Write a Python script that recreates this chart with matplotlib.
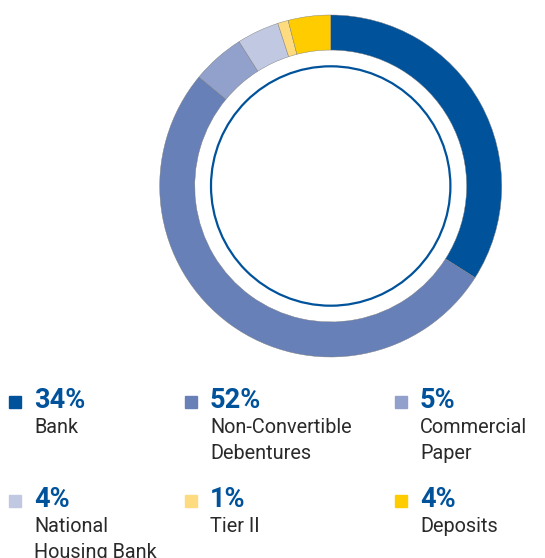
import matplotlib.pyplot as plt
from matplotlib.patches import Circle

# Data
labels = ['Bank', 'Non-Convertible\nDebentures', 'Commercial\nPaper',
          'National\nHousing Bank', 'Tier II', 'Deposits']
shares = [34, 52, 5, 4, 1, 4]
colors = ['#00529B', '#6780B8', '#91A1CC', '#C1C9E2', '#FFDB80', '#FFCC00']

W, H = 545, 558
fig = plt.figure(figsize=(W / 100, H / 100), dpi=100)


def fx(px):
    return px / W


def fy(py):
    return 1 - py / H


# Donut
cx, cy, r = 330.7, 186, 171
ax = fig.add_axes([fx(cx - r), fy(cy + r), 2 * r / W, 2 * r / H])
ax.pie(shares, colors=colors, startangle=90, counterclock=False, radius=1,
       wedgeprops=dict(width=0.205, edgecolor='#7a7a7a', linewidth=0.3))
ax.add_patch(Circle((0, 0), 0.70, fill=False, edgecolor='#00529B', linewidth=1.6))
ax.set_xlim(-1, 1)
ax.set_ylim(-1, 1)
ax.set_aspect('equal')
ax.axis('off')

# Legend blocks
col_x = [9, 185, 395]
row_y = [408, 507]
for i, (lab, val, c) in enumerate(zip(labels, shares, colors)):
    x0 = col_x[i % 3]
    yb = row_y[i // 3]
    fig.patches.append(plt.Rectangle((fx(x0), fy(yb)), 12 / W, 12 / H,
                                     transform=fig.transFigure, color=c))
    fig.text(fx(x0 + 25), fy(yb), f'{val}%', fontsize=19.5, fontweight='bold',
             family='Roboto', color='#00529B', va='baseline', ha='left')
    for j, line in enumerate(lab.split('\n')):
        fig.text(fx(x0 + 25), fy(yb + 25 + 26 * j), line, fontsize=14.3,
                 family='Roboto', fontweight='normal', color='#2a2a2a',
                 va='baseline', ha='left')

plt.savefig('out.png', dpi=100)
